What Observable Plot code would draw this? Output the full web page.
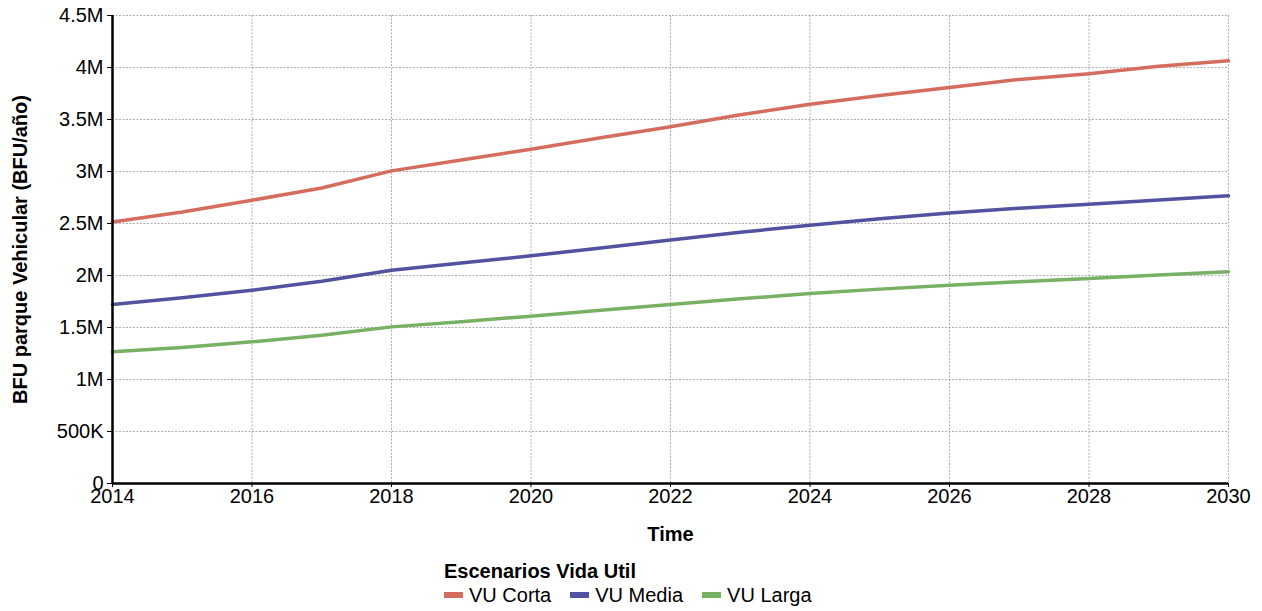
<!DOCTYPE html>
<html>
<head>
<meta charset="utf-8">
<script src="https://cdn.jsdelivr.net/npm/d3@7"></script>
<script src="https://cdn.jsdelivr.net/npm/@observablehq/plot@0.6"></script>
<style>
  body { margin: 0; background: #fff; font-family: "Liberation Sans", Arial, sans-serif; }
  #legend { margin-left: 444px; margin-top: 9px; color: #000; }
  #legend .title { font-weight: bold; font-size: 20px; line-height: 24px; }
  #legend .items { display: flex; gap: 19px; font-size: 20px; line-height: 24px; margin-top: 0px; }
  #legend .item { display: flex; align-items: center; }
  #legend .sw { width: 19px; height: 6px; margin-right: 6px; display: inline-block; }
</style>
</head>
<body>
<div id="chart"></div>
<script>
const years = [2014,2015,2016,2017,2018,2019,2020,2021,2022,2023,2024,2025,2026,2027,2028,2029,2030];
const seriesNames = ["VU Corta","VU Media","VU Larga"];
const vuCorta = [2.515,2.61,2.724,2.842,3.006,3.11,3.214,3.325,3.43,3.545,3.647,3.73,3.808,3.885,3.94,4.012,4.064];
const vuMedia = [1.721,1.785,1.859,1.945,2.051,2.12,2.189,2.265,2.342,2.415,2.484,2.545,2.602,2.647,2.686,2.726,2.766];
const vuLarga = [1.266,1.308,1.362,1.426,1.506,1.556,1.609,1.667,1.721,1.776,1.827,1.869,1.907,1.94,1.971,2.005,2.035];
const colors = ["#d46d5e","#5152a0","#78b064"];
const yTicks = [0,0.5e6,1e6,1.5e6,2e6,2.5e6,3e6,3.5e6,4e6,4.5e6];
const yTickLabels = ["0","500K","1M","1.5M","2M","2.5M","3M","3.5M","4M","4.5M"];
const xTicks = [2014,2016,2018,2020,2022,2024,2026,2028,2030];
const yTitle = "BFU parque Vehicular (BFU/año)";
const xTitle = "Time";
const legendTitle = "Escenarios Vida Util";

const allSeries = [vuCorta, vuMedia, vuLarga];
const data = [];
seriesNames.forEach((s, i) => years.forEach((y, j) => data.push({series: s, year: y, value: allSeries[i][j] * 1e6})));

const font = "Liberation Sans, Arial, sans-serif";
const chart = Plot.plot({
  width: 1262,
  height: 550,
  marginLeft: 112,
  marginRight: 34,
  marginTop: 15,
  marginBottom: 67,
  style: {fontFamily: font, fontSize: "20px", color: "#000", background: "#fff", overflow: "visible"},
  x: {domain: [2014, 2030]},
  y: {domain: [0, 4.5e6]},
  color: {domain: seriesNames, range: colors},
  marks: [
    Plot.gridX(xTicks, {stroke: "#999", strokeOpacity: 1, strokeWidth: 0.8, strokeDasharray: "2,1.5"}),
    Plot.gridY(yTicks, {stroke: "#999", strokeOpacity: 1, strokeWidth: 0.8, strokeDasharray: "2,1.5"}),
    Plot.axisX(xTicks, {tickSize: 4, tickPadding: 1, tickFormat: d => String(d), label: null, fontSize: 20, fill: "#000"}),
    Plot.axisY(yTicks, {tickSize: 5, tickPadding: 4, tickFormat: d => yTickLabels[yTicks.indexOf(d)], label: null, fontSize: 20, fill: "#000"}),
    Plot.line(data, {x: "year", y: "value", stroke: "series", strokeWidth: 3.5, curve: "linear"}),
    Plot.ruleX([2014], {stroke: "#000", strokeWidth: 2.5}),
    Plot.ruleY([0], {stroke: "#000", strokeWidth: 2.5}),
    Plot.text([yTitle], {frameAnchor: "left", textAnchor: "middle", lineAnchor: "middle", dx: -92, rotate: -90, fontWeight: "bold", fontSize: 20, fill: "#000"}),
    Plot.text([xTitle], {frameAnchor: "bottom", textAnchor: "middle", lineAnchor: "middle", dy: 51, fontWeight: "bold", fontSize: 20, fill: "#000"})
  ]
});
document.getElementById("chart").appendChild(chart);

const legend = document.createElement("div");
legend.id = "legend";
const t = document.createElement("div");
t.className = "title";
t.textContent = legendTitle;
legend.appendChild(t);
const items = document.createElement("div");
items.className = "items";
seriesNames.forEach((s, i) => {
  const it = document.createElement("div");
  it.className = "item";
  const sw = document.createElement("span");
  sw.className = "sw";
  sw.style.background = colors[i];
  it.appendChild(sw);
  const lab = document.createElement("span");
  lab.textContent = s;
  it.appendChild(lab);
  items.appendChild(it);
});
legend.appendChild(items);
document.body.appendChild(legend);
</script>
</body>
</html>
